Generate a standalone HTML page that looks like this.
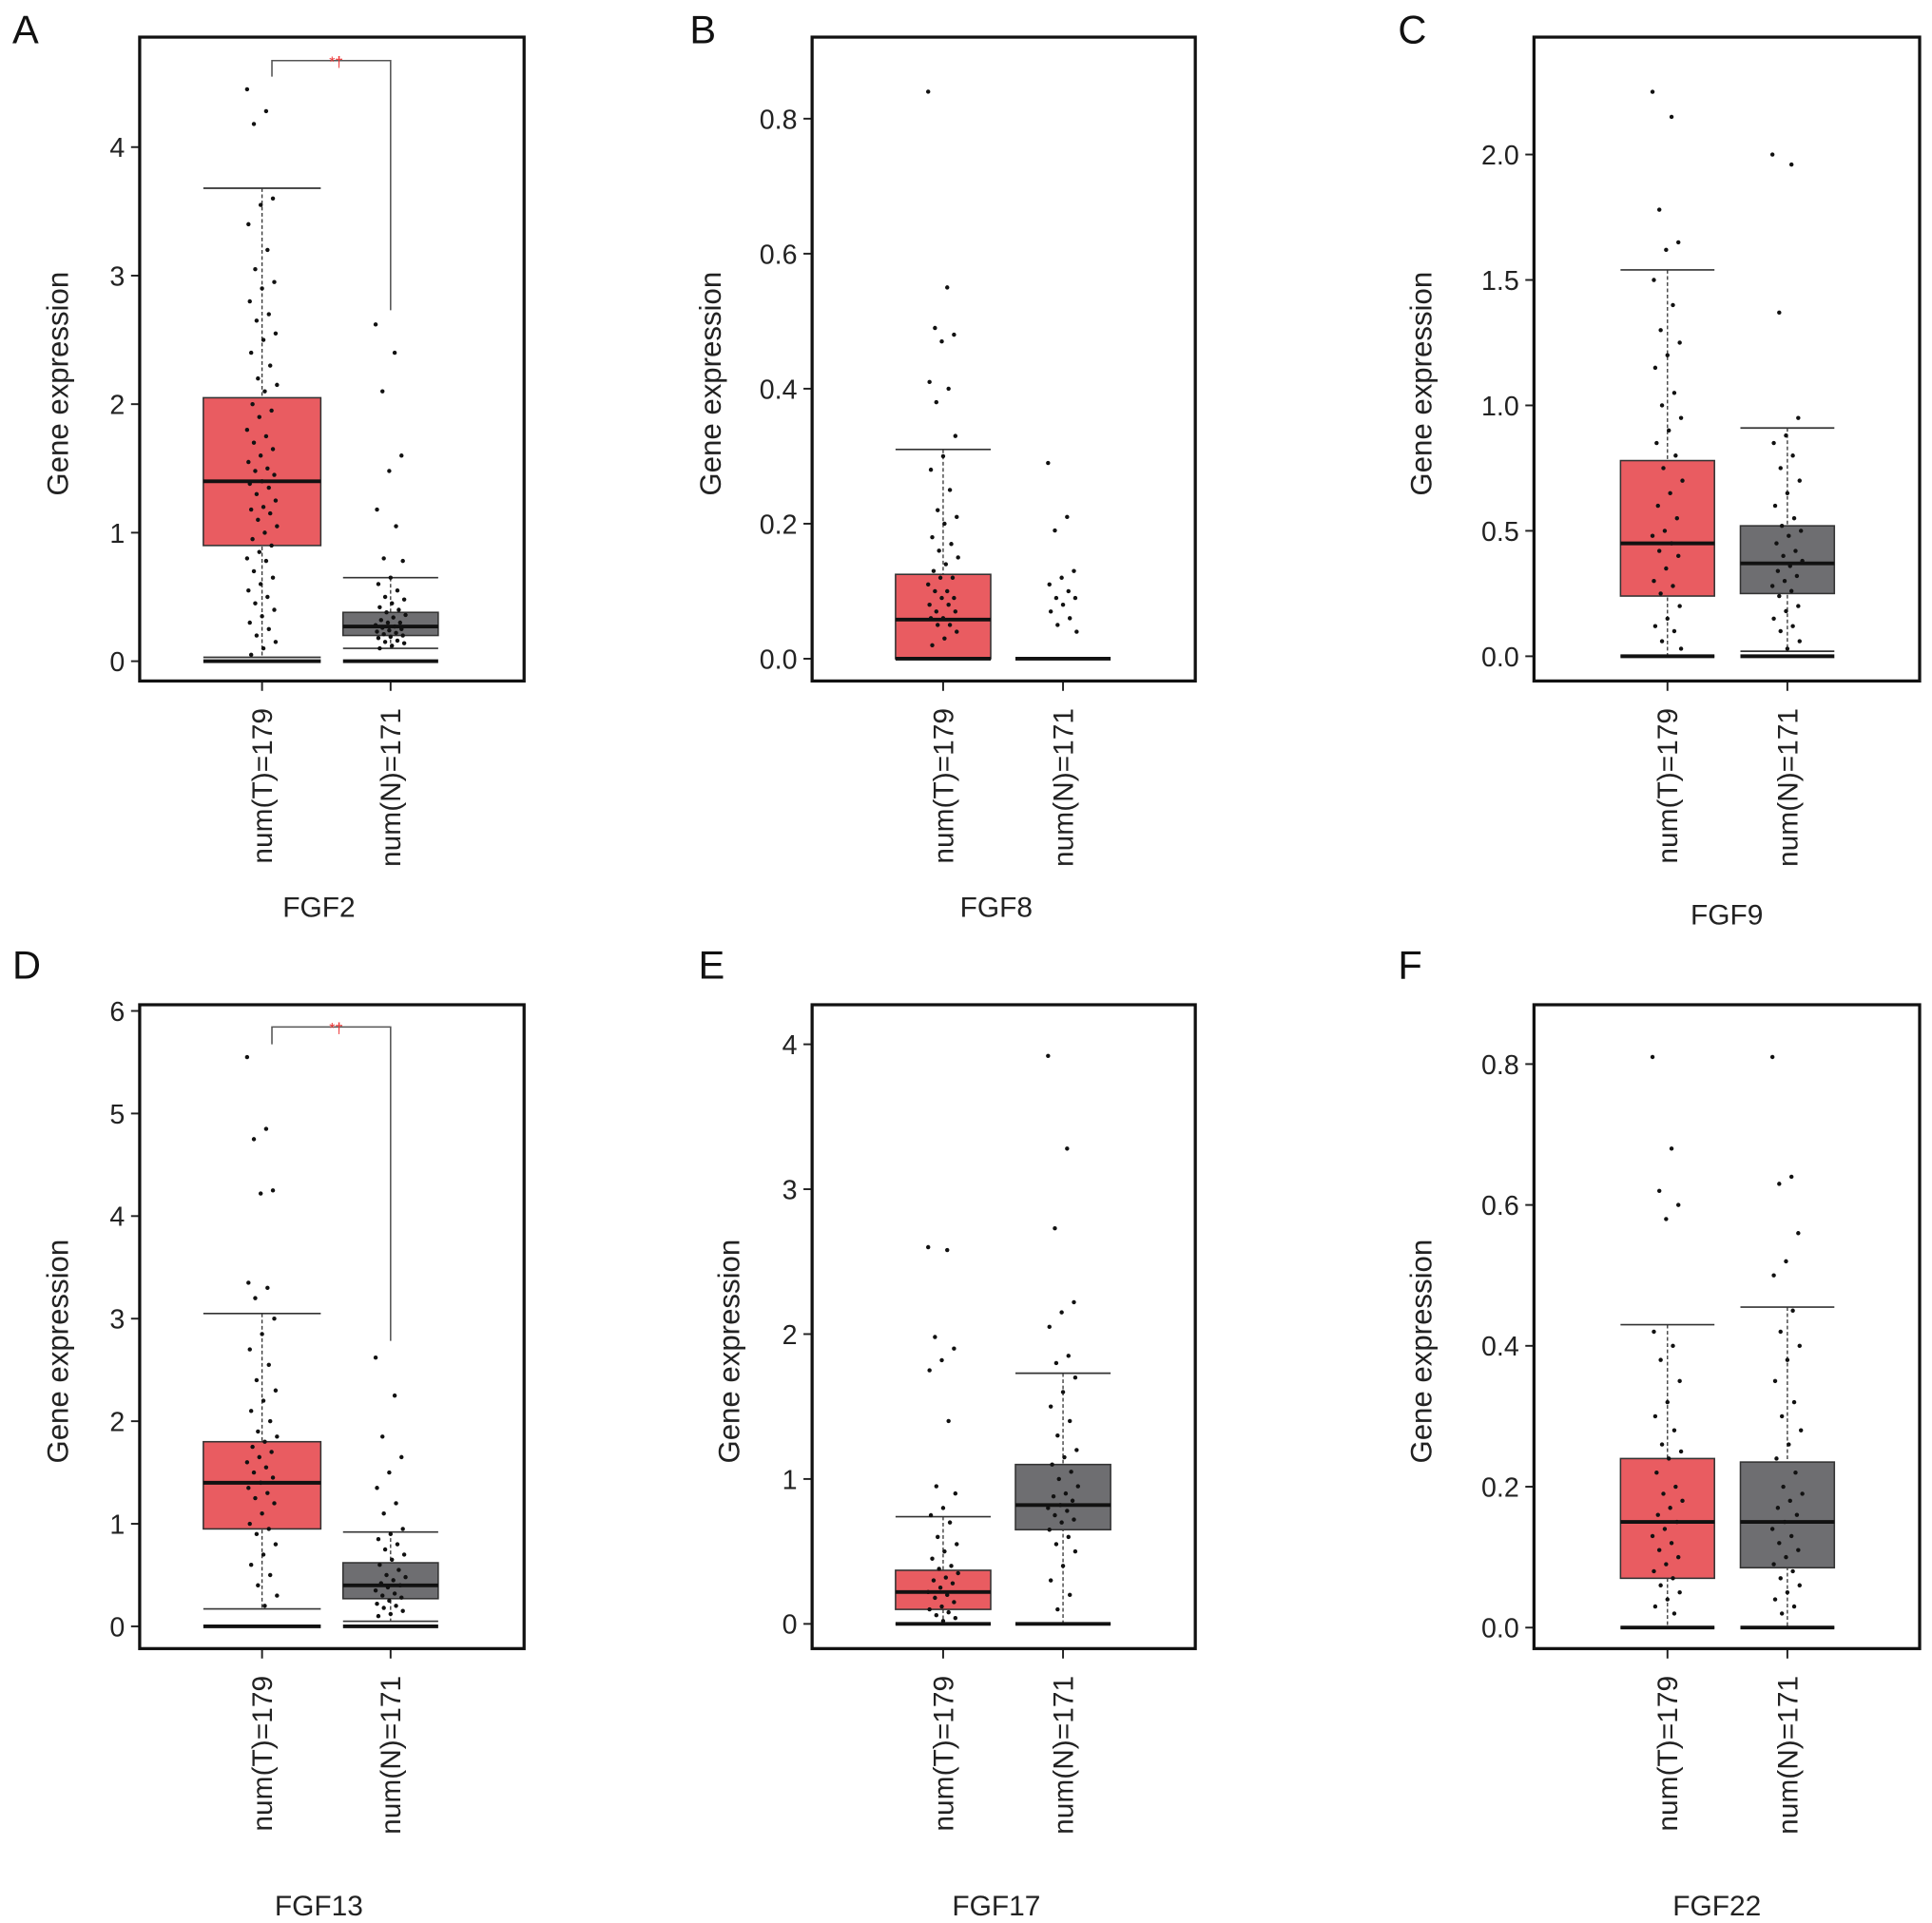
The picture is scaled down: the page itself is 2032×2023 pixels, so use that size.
<!DOCTYPE html>
<html><head><meta charset="utf-8"><style>
html,body{margin:0;padding:0;background:#fff;}
svg{display:block;font-family:"Liberation Sans",sans-serif;}
</style></head><body>
<svg id="fig" width="2032" height="2023" viewBox="0 0 1563 1556" xmlns="http://www.w3.org/2000/svg"></svg>
<script>
// ---- data ----
const groupLabels = ["num(T)=179","num(N)=171"];
const genes = ["FGF2","FGF8","FGF9","FGF13","FGF17","FGF22"];
const letters = ["A","B","C","D","E","F"];
const yTicksA=[0,1,2,3,4], yTicksB=[0,0.2,0.4,0.6,0.8], yTicksC=[0,0.5,1,1.5,2], yTicksD=[0,1,2,3,4,5,6], yTicksE=[0,1,2,3,4], yTicksF=[0,0.2,0.4,0.6,0.8];
const tickLabelsA=["0","1","2","3","4"], tickLabelsB=["0.0","0.2","0.4","0.6","0.8"], tickLabelsC=["0.0","0.5","1.0","1.5","2.0"], tickLabelsD=["0","1","2","3","4","5","6"], tickLabelsE=["0","1","2","3","4"], tickLabelsF=["0.0","0.2","0.4","0.6","0.8"];
// box stats: [lowerWhisker, q1, median, q3, upperWhisker] (null = no box)
const statsA_T=[0.03,0.9,1.4,2.05,3.68], statsA_N=[0.1,0.2,0.27,0.38,0.65];
const statsB_T=[0,0,0.058,0.125,0.31], statsB_N=null;
const statsC_T=[0,0.24,0.45,0.78,1.54], statsC_N=[0.02,0.25,0.37,0.52,0.91];
const statsD_T=[0.17,0.95,1.4,1.8,3.05], statsD_N=[0.05,0.27,0.4,0.62,0.92];
const statsE_T=[0,0.1,0.22,0.37,0.74], statsE_N=[0,0.65,0.82,1.1,1.73];
const statsF_T=[0,0.07,0.15,0.24,0.43], statsF_N=[0,0.085,0.15,0.235,0.455];
// points (subset)
const ptsA_T=[4.45,4.28,4.18,3.6,3.55,3.4,3.2,3.05,2.95,2.9,2.8,2.7,2.65,2.55,2.5,2.4,2.3,2.2,2.15,2.1,2.0,1.95,1.9,1.8,1.75,1.7,1.65,1.6,1.55,1.5,1.48,1.45,1.4,1.38,1.35,1.3,1.25,1.2,1.18,1.15,1.1,1.05,1.0,0.95,0.9,0.85,0.8,0.78,0.7,0.65,0.6,0.55,0.5,0.45,0.4,0.35,0.3,0.25,0.2,0.15,0.1,0.05];
const ptsA_N=[2.62,2.4,2.1,1.6,1.48,1.18,1.05,0.8,0.78,0.65,0.6,0.55,0.5,0.48,0.45,0.42,0.4,0.38,0.36,0.34,0.32,0.3,0.3,0.28,0.27,0.26,0.25,0.24,0.23,0.22,0.21,0.2,0.19,0.18,0.16,0.15,0.14,0.12,0.1];
const ptsB_T=[0.84,0.55,0.49,0.48,0.47,0.41,0.4,0.38,0.33,0.3,0.28,0.25,0.22,0.21,0.2,0.18,0.17,0.16,0.15,0.14,0.13,0.12,0.12,0.11,0.1,0.1,0.09,0.09,0.08,0.08,0.07,0.07,0.06,0.06,0.05,0.05,0.04,0.03,0.02];
const ptsB_N=[0.29,0.21,0.19,0.13,0.12,0.11,0.1,0.09,0.09,0.08,0.07,0.06,0.05,0.04];
const ptsC_T=[2.25,2.15,1.78,1.65,1.62,1.5,1.4,1.3,1.25,1.2,1.15,1.05,1.0,0.95,0.9,0.85,0.8,0.75,0.7,0.65,0.6,0.55,0.5,0.48,0.45,0.42,0.4,0.35,0.3,0.28,0.25,0.2,0.15,0.12,0.1,0.06,0.03];
const ptsC_N=[2.0,1.96,1.37,0.95,0.88,0.85,0.8,0.75,0.7,0.65,0.6,0.55,0.52,0.5,0.48,0.45,0.42,0.4,0.38,0.36,0.34,0.32,0.3,0.28,0.26,0.24,0.2,0.18,0.15,0.12,0.1,0.06,0.03];
const ptsD_T=[5.55,4.85,4.75,4.25,4.22,3.35,3.3,3.2,3.0,2.85,2.7,2.55,2.4,2.3,2.2,2.1,2.0,1.9,1.85,1.8,1.75,1.7,1.65,1.6,1.55,1.5,1.45,1.4,1.35,1.3,1.25,1.2,1.1,1.0,0.95,0.9,0.8,0.7,0.6,0.5,0.4,0.3,0.2];
const ptsD_N=[2.62,2.25,1.85,1.65,1.5,1.35,1.2,1.1,0.95,0.9,0.85,0.8,0.75,0.7,0.65,0.6,0.55,0.5,0.48,0.45,0.42,0.4,0.38,0.35,0.32,0.3,0.28,0.25,0.22,0.2,0.18,0.15,0.12,0.1];
const ptsE_T=[2.6,2.58,1.98,1.9,1.82,1.75,1.4,0.95,0.9,0.8,0.75,0.7,0.6,0.55,0.5,0.45,0.4,0.38,0.35,0.32,0.3,0.28,0.25,0.22,0.2,0.18,0.15,0.12,0.1,0.08,0.06,0.04,0.02];
const ptsE_N=[3.92,3.28,2.73,2.22,2.15,2.05,1.85,1.8,1.7,1.6,1.5,1.4,1.3,1.2,1.15,1.1,1.05,1.0,0.95,0.9,0.88,0.85,0.82,0.8,0.78,0.75,0.72,0.7,0.65,0.6,0.55,0.5,0.4,0.3,0.2,0.1];
const ptsF_T=[0.81,0.68,0.62,0.6,0.58,0.42,0.4,0.38,0.35,0.32,0.3,0.28,0.26,0.25,0.24,0.22,0.2,0.19,0.18,0.17,0.16,0.15,0.14,0.13,0.12,0.11,0.1,0.09,0.08,0.07,0.06,0.05,0.04,0.03,0.02];
const ptsF_N=[0.81,0.64,0.63,0.56,0.52,0.5,0.45,0.42,0.4,0.38,0.35,0.32,0.3,0.28,0.26,0.24,0.22,0.2,0.19,0.18,0.17,0.16,0.15,0.14,0.13,0.12,0.11,0.1,0.09,0.08,0.07,0.06,0.05,0.04,0.03,0.02];

// ---- layout (positions, not data) ----
const NS="http://www.w3.org/2000/svg";
const svg=document.getElementById('fig');
function mk(tag,attrs,parent){const e=document.createElementNS(NS,tag);for(const k in attrs)e.setAttribute(k,attrs[k]);(parent||svg).appendChild(e);return e;}
const panels=[
 {lx:10,ly:35,x0:113,x1:424,y0:30,y1:551,v0:0,v1:4,p0:535,p1:119,ticks:yTicksA,tl:tickLabelsA,cx:[212,316],bw:[95,77],st:[statsA_T,statsA_N],pts:[ptsA_T,ptsA_N],gx:258,gy:742,ylx:47,sig:[49,62,251]},
 {lx:558,ly:35,x0:657,x1:967,y0:30,y1:551,v0:0,v1:0.8,p0:533,p1:96,ticks:yTicksB,tl:tickLabelsB,cx:[763,860],bw:[77,77],st:[statsB_T,statsB_N],pts:[ptsB_T,ptsB_N],gx:806,gy:742,ylx:575},
 {lx:1131,ly:35,x0:1241,x1:1553,y0:30,y1:551,v0:0,v1:2,p0:531,p1:125,ticks:yTicksC,tl:tickLabelsC,cx:[1349,1446],bw:[76,76],st:[statsC_T,statsC_N],pts:[ptsC_T,ptsC_N],gx:1397,gy:748,ylx:1150},
 {lx:10,ly:792,x0:113,x1:424,y0:813,y1:1334,v0:0,v1:6,p0:1316,p1:818,ticks:yTicksD,tl:tickLabelsD,cx:[212,316],bw:[95,77],st:[statsD_T,statsD_N],pts:[ptsD_T,ptsD_N],gx:258,gy:1550,ylx:47,sig:[831,845,1085]},
 {lx:565,ly:792,x0:657,x1:967,y0:813,y1:1334,v0:0,v1:4,p0:1314,p1:845,ticks:yTicksE,tl:tickLabelsE,cx:[763,860],bw:[77,77],st:[statsE_T,statsE_N],pts:[ptsE_T,ptsE_N],gx:806,gy:1550,ylx:590},
 {lx:1131,ly:792,x0:1241,x1:1553,y0:813,y1:1334,v0:0,v1:0.8,p0:1317,p1:861,ticks:yTicksF,tl:tickLabelsF,cx:[1349,1446],bw:[76,76],st:[statsF_T,statsF_N],pts:[ptsF_T,ptsF_N],gx:1389,gy:1550,ylx:1150}
];
const fills=["#e95c61","#6e6e71"];
panels.forEach((P,pi)=>{
 const g=mk('g',{});
 
 
 const y=v=>P.p0+(v-P.v0)/(P.v1-P.v0)*(P.p1-P.p0);
 const lt=mk('text',{x:P.lx,y:P.ly,'font-size':32,fill:'#111'},g);lt.textContent=letters[pi];
 
 
 P.ticks.forEach((t,i)=>{
  mk('line',{x1:P.x0-7,x2:P.x0,y1:y(t),y2:y(t),stroke:'#222','stroke-width':1.5},g);
  const tx=mk('text',{x:P.x0-12,y:y(t)+8,'font-size':22,'text-anchor':'end',fill:'#222'},g);tx.textContent=P.tl[i];
  
  
 });
 const yl=mk('text',{x:0,y:0,'font-size':24,'text-anchor':'middle',fill:'#222',transform:`translate(${P.ylx+8},${(P.y0+P.y1)/2+20}) rotate(-90)`},g);
 yl.textContent='Gene expression';
 
 
 [0,1].forEach(k=>{
  const cx=P.cx[k],hw=P.bw[k]/2,s=P.st[k];
  const bx=mk('g',{},g);
  
  
  if(s){
   mk('line',{x1:cx,x2:cx,y1:y(s[4]),y2:y(s[0]),stroke:'#333','stroke-width':1,'stroke-dasharray':'3,2'},bx);
   mk('line',{x1:cx-hw,x2:cx+hw,y1:y(s[4]),y2:y(s[4]),stroke:'#333','stroke-width':1.3},bx);
   mk('line',{x1:cx-hw,x2:cx+hw,y1:y(s[0]),y2:y(s[0]),stroke:'#333','stroke-width':1.3},bx);
   mk('rect',{x:cx-hw,y:y(s[3]),width:2*hw,height:y(s[1])-y(s[3]),fill:fills[k],stroke:'#333','stroke-width':1.2},bx);
  }
  mk('line',{x1:cx-hw,x2:cx+hw,y1:y(0),y2:y(0),stroke:'#111','stroke-width':3},bx);
  P.pts[k].forEach((v,i)=>{
   const jx=((i*37)%23-11)*1.1;
   const c=mk('circle',{cx:cx+jx,cy:y(v),r:1.7,fill:'#111'},bx);
   
   
  });
  if(s) mk('line',{x1:cx-hw,x2:cx+hw,y1:y(s[2]),y2:y(s[2]),stroke:'#111','stroke-width':3},bx);
  mk('line',{x1:cx,x2:cx,y1:P.y1,y2:P.y1+8,stroke:'#222','stroke-width':1.5},g);
  const xl=mk('text',{x:0,y:0,'font-size':23,'text-anchor':'end',fill:'#222',transform:`translate(${cx+8},${P.y1+22}) rotate(-90)`},g);
  xl.textContent=groupLabels[k];
  
  
 });
 if(P.sig){
  mk('polyline',{points:`${P.cx[0]+8},${P.sig[1]} ${P.cx[0]+8},${P.sig[0]} ${P.cx[1]},${P.sig[0]} ${P.cx[1]},${P.sig[2]}`,fill:'none',stroke:'#555','stroke-width':1.2},g);
  const st=mk('text',{x:(P.cx[0]+P.cx[1])/2+8,y:P.sig[0]+5,'font-size':12,'text-anchor':'middle',fill:'#e33'},g);st.textContent='*†';
  
  
 }
 mk('rect',{x:P.x0,y:P.y0,width:P.x1-P.x0,height:P.y1-P.y0,fill:'none',stroke:'#111','stroke-width':2.5},g);
 const gl=mk('text',{x:P.gx,y:P.gy,'font-size':23,'text-anchor':'middle',fill:'#222'},g);gl.textContent=genes[pi];
 
 
});
</script>
</body></html>
